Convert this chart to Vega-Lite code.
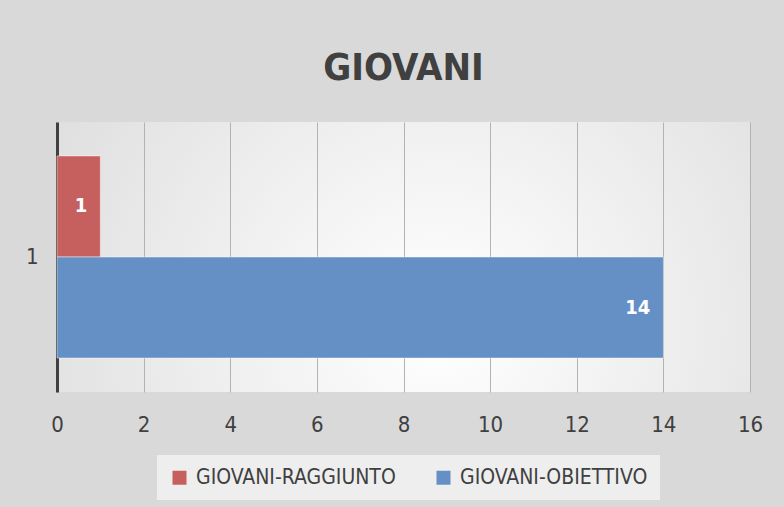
{
  "$schema": "https://vega.github.io/schema/vega-lite/v6.json",
  "autosize": {"type": "none"},
  "padding": {"left": 57, "top": 122, "right": 34, "bottom": 115},
  "width": 693,
  "height": 270,
  "background": "#d9d9d9",
  "title": {
    "text": "GIOVANI",
    "fontSize": 38,
    "fontWeight": "bold",
    "font": "DejaVu Sans Condensed, sans-serif",
    "color": "#404040",
    "baseline": "bottom",
    "offset": 34,
    "dy": 38,
    "anchor": "middle"
  },
  "data": {
    "values": [
      {"cat": "1", "serie": "GIOVANI-RAGGIUNTO", "valore": 1},
      {"cat": "1", "serie": "GIOVANI-OBIETTIVO", "valore": 14}
    ]
  },
  "encoding": {
    "y": {
      "field": "cat",
      "type": "nominal",
      "scale": {"paddingInner": 0, "paddingOuter": 0.168},
      "axis": {
        "title": null,
        "labelAngle": 0,
        "ticks": false,
        "grid": false,
        "domain": true,
        "domainColor": "#404040",
        "domainWidth": 3,
        "labelPadding": 19,
        "labelFontSize": 22,
        "labelColor": "#404040",
        "labelFont": "DejaVu Sans Condensed, sans-serif"
      }
    },
    "yOffset": {
      "field": "serie",
      "type": "nominal",
      "sort": ["GIOVANI-RAGGIUNTO", "GIOVANI-OBIETTIVO"]
    },
    "x": {
      "field": "valore",
      "type": "quantitative",
      "scale": {"domain": [0, 16], "nice": false},
      "axis": {
        "title": null,
        "values": [0, 2, 4, 6, 8, 10, 12, 14, 16],
        "domain": false,
        "ticks": false,
        "grid": true,
        "gridColor": "#b3b3b3",
        "gridWidth": 1,
        "labelFlush": false,
        "labelPadding": 22,
        "labelFontSize": 22,
        "labelColor": "#404040",
        "labelFont": "DejaVu Sans Condensed, sans-serif"
      }
    }
  },
  "layer": [
    {
      "mark": {"type": "bar", "stroke": "#ffffff", "strokeOpacity": 0.45, "strokeWidth": 1},
      "encoding": {
        "color": {
          "field": "serie",
          "type": "nominal",
          "sort": ["GIOVANI-RAGGIUNTO", "GIOVANI-OBIETTIVO"],
          "scale": {
            "domain": ["GIOVANI-RAGGIUNTO", "GIOVANI-OBIETTIVO"],
            "range": ["#c5605e", "#6590c5"]
          },
          "legend": {
            "title": null,
            "orient": "none",
            "legendX": 100,
            "legendY": 333,
            "direction": "horizontal",
            "padding": 12,
            "fillColor": "#eeeeee",
            "symbolType": "square",
            "symbolSize": 196,
            "symbolStrokeWidth": 0,
            "labelOffset": 6,
            "columnPadding": 37,
            "labelFontSize": 21,
            "labelColor": "#404040",
            "labelFont": "DejaVu Sans Condensed, sans-serif",
            "labelLimit": 400
          }
        }
      }
    },
    {
      "mark": {
        "type": "text",
        "align": "right",
        "baseline": "middle",
        "dx": -13,
        "color": "#ffffff",
        "fontWeight": "bold",
        "fontSize": 20,
        "font": "DejaVu Sans Condensed, sans-serif"
      },
      "encoding": {
        "text": {"field": "valore", "type": "quantitative"}
      }
    }
  ],
  "config": {
    "view": {
      "stroke": null,
      "fill": {
        "gradient": "radial",
        "x1": 0.55, "y1": 0.6, "r1": 0,
        "x2": 0.55, "y2": 0.6, "r2": 0.75,
        "stops": [
          {"offset": 0, "color": "#ffffff"},
          {"offset": 1, "color": "#d9d9d9"}
        ]
      }
    }
  }
}
